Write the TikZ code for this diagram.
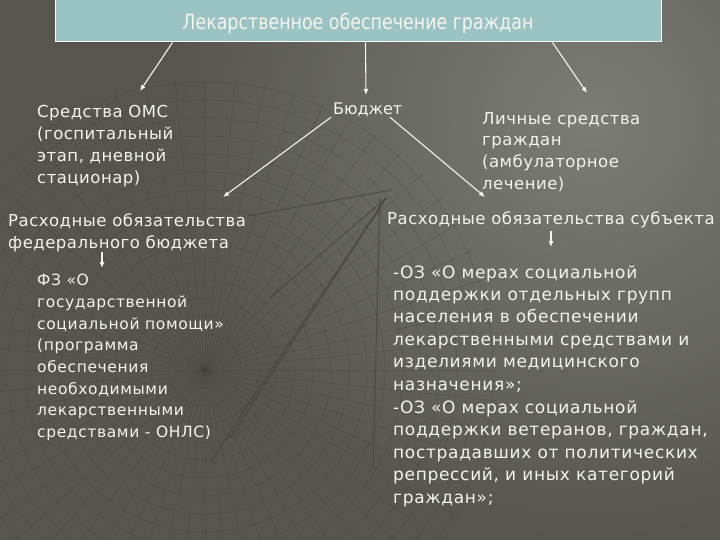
\documentclass[tikz,border=0pt]{standalone}
\usepackage{fontspec}
\setmainfont{DejaVu Sans}
\newfontfamily\titlefont[FakeStretch=0.83]{DejaVu Sans}
\newfontfamily\widefont[LetterSpace=3]{DejaVu Sans}
\newfontfamily\widerfont[LetterSpace=4]{DejaVu Sans}
\usetikzlibrary{arrows.meta}
\definecolor{bgdark}{HTML}{56564E}
\definecolor{bglight}{HTML}{7B7C73}
\definecolor{boxfill}{HTML}{9CC3C3}
\definecolor{txt}{HTML}{F4F4EE}
\definecolor{mesh}{HTML}{3E3E37}
\begin{document}
\begin{tikzpicture}[x=1pt,y=-1pt,>={Latex[length=6pt,width=5pt]},
    lbl/.style={text=txt,inner sep=0pt,align=left,anchor=north west,
      font=\widefont\fontsize{16.5}{22}\selectfont},
    link/.style={->,draw=txt,line width=1.1pt}]
        % Background
        \useasboundingbox (0,0) rectangle (720,540);
        \fill[bgdark] (0,0) rectangle (720,540);
        \begin{scope}
          \clip (0,0) rectangle (720,540);
          \shade[inner color=bglight,outer color=bgdark] (590,120) circle[radius=420];
        \end{scope}
        % Dish
        \begin{scope}[draw=mesh,opacity=0.3,line width=0.7pt]
          \clip (205,370) circle[radius=292];
          \foreach \r in {18,36,...,288}
            \draw (205,370) circle[radius=\r];
          \foreach \a in {0,6,...,354}
            \draw (205,370) -- ++(\a:300);
        \end{scope}
        \begin{scope}[draw=mesh,opacity=0.55,line width=1.2pt]
          \draw (392,190) -- (247,216);
          \draw (386,198) -- (270,298);
          \draw (386,198) -- (230,438);
          \draw (386,198) -- (210,462);
          \draw (380,198) -- (373,468);
        \end{scope}
        % Title
        \node[draw=white,fill=boxfill,line width=1pt,minimum width=606pt,minimum height=42pt,
          text depth=0pt,text=txt,font=\titlefont\fontsize{21}{24}\selectfont] (title) at (358,21)
          {Лекарственное обеспечение граждан};
        % Sources
        \node[lbl] (oms) at (37,105) {Средства ОМС\\(госпитальный\\этап, дневной\\стационар)};
        \node[lbl,font=\fontsize{16}{22}\selectfont] (budget) at (333,103) {Бюджет};
        \node[lbl,font=\widefont\fontsize{16.5}{21.7}\selectfont] (personal) at (482,112)
          {Личные средства\\граждан\\(амбулаторное\\лечение)};
        % Obligations
        \node[lbl] (fedobl) at (8,213) {Расходные обязательства\\федерального бюджета};
        \node[lbl] (subobl) at (387,211) {Расходные обязательства субъекта};
        % Laws
        \node[lbl,font=\widerfont\fontsize{15.5}{21.7}\selectfont] (fz) at (37,274)
          {ФЗ «О\\государственной\\социальной помощи»\\(программа\\обеспечения\\необходимыми\\лекарственными\\средствами - ОНЛС)};
        \node[lbl,font=\widerfont\fontsize{17}{22.4}\selectfont] (oz) at (393,265)
          {-ОЗ «О мерах социальной\\поддержки отдельных групп\\населения в обеспечении\\лекарственными средствами и\\изделиями медицинского\\назначения»;\\[1pt]
           -ОЗ «О мерах социальной\\поддержки ветеранов, граждан,\\пострадавших от политических\\репрессий, и иных категорий\\граждан»;};
        % Arrows
        \draw[link] ([xshift=118pt]title.south west) -- ([xshift=103pt,yshift=14pt]oms.north west);
        \draw[link] ([xshift=311pt]title.south west) -- ([xshift=33pt,yshift=8pt]budget.north west);
        \draw[link] ([xshift=498pt]title.south west) -- ([xshift=105pt,yshift=19pt]personal.north west);
        \draw[link] ([xshift=-2pt]budget.south west) -- ([xshift=215pt,yshift=16pt]fedobl.north west);
        \draw[link] ([xshift=57pt]budget.south west) -- ([xshift=98pt,yshift=14pt]subobl.north west);
        \draw[link] ([xshift=94pt]fedobl.south west) -- ([xshift=65pt,yshift=6pt]fz.north west);
        \draw[link] ([xshift=164pt,yshift=-3pt]subobl.south west) -- ([xshift=158pt,yshift=18pt]oz.north west);
\end{tikzpicture}
\end{document}
